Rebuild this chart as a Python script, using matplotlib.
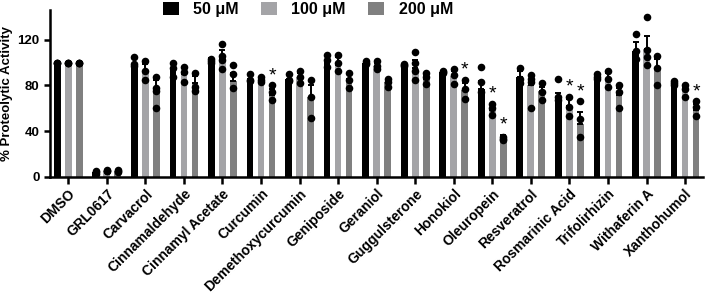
import numpy as np
import matplotlib
matplotlib.use("Agg")
import matplotlib.pyplot as plt
from matplotlib.patches import Patch

plt.rcParams['font.family'] = ['Liberation Sans', 'DejaVu Sans']
plt.rcParams['font.weight'] = 'bold'

compounds = ["DMSO", "GRL0617", "Carvacrol", "Cinnamaldehyde", "Cinnamyl Acetate",
             "Curcumin", "Demethoxycurcumin", "Geniposide", "Geraniol", "Guggulsterone",
             "Honokiol", "Oleuropein", "Resveratrol", "Rosmarinic Acid", "Trifolirhizin",
             "Withaferin A", "Xanthohumol"]
doses = ["50 \u03bcM", "100 \u03bcM", "200 \u03bcM"]

# bar means per dose
mean_50 = [100, 4, 99, 94, 101, 86, 86, 102, 100, 98, 92, 77, 87, 70, 88, 110, 82]
mean_100 = [100, 5, 93, 90, 104, 85, 87, 98, 97, 95, 88, 59, 80, 62, 86, 112, 77]
mean_200 = [100, 5, 75, 82, 84, 72, 70, 86, 83, 86, 76, 35, 75, 46, 72, 94, 59]

# upward error bars
err_50 = [0, 1, 5, 6, 3, 4, 4, 5, 1, 1, 1, 7, 6, 3, 2, 8, 2]
err_100 = [0, 1, 6, 6, 7, 2, 4, 7, 3, 7, 5, 4, 5, 6, 5, 11, 2]
err_200 = [0, 1, 10, 6, 7, 5, 10, 5, 3, 3, 6, 2, 4, 11, 6, 9, 5]

# replicate dots
pts_50 = [[100, 100, 100], [4, 5, 3], [105, 97, 99], [100, 95, 87], [103, 101, 100],
          [90, 85, 84], [90, 85, 84], [107, 102, 96], [101, 100, 99], [99, 98, 97],
          [93, 92, 91], [96, 83, 74], [95, 86, 82], [86, 70, 67], [90, 86, 87],
          [125, 110, 103], [84, 80, 82]]
pts_100 = [[100, 100, 100], [6, 5, 5], [101, 93, 85], [96, 83, 92], [116, 106, 102, 94],
           [87, 85, 83], [93, 87, 82], [107, 100, 93], [101, 94, 97], [109, 100, 93, 85],
           [94, 89, 81], [64, 60, 54], [89, 86, 83, 60], [70, 61, 53], [93, 86, 79],
           [140, 111, 105, 98], [80, 77, 70]]
pts_200 = [[100, 100, 100], [5, 6, 4], [87, 78, 75, 60], [91, 79, 75], [98, 90, 78],
           [80, 74, 67], [85, 70, 52], [91, 85, 78], [86, 79, 83], [91, 87, 81],
           [85, 77, 68], [35, 33, 32], [82, 74, 67], [66, 51, 35], [80, 74, 60],
           [106, 95, 80], [66, 61, 53]]

# which bars carry a significance star
star_100 = ["Oleuropein", "Rosmarinic Acid"]
star_200 = ["Curcumin", "Honokiol", "Oleuropein", "Rosmarinic Acid", "Xanthohumol"]

colors = ["#000000", "#a4a4a7", "#808080"]

fig = plt.figure(figsize=(7.06, 2.94), dpi=100)
ax = fig.add_axes([0.071, 0.398, 0.925, 0.568])

x = np.arange(len(compounds))
offs = [-0.285, 0, 0.285]
width = 0.175
means = [mean_50, mean_100, mean_200]
errs = [err_50, err_100, err_200]
pts = [pts_50, pts_100, pts_200]
stars = [[], star_100, star_200]

for k in range(3):
    xs = x + offs[k]
    ax.bar(xs, means[k], width=width, color=colors[k], zorder=2)
    ax.errorbar(xs, means[k], yerr=[np.zeros(len(x)), errs[k]], fmt='none',
                ecolor='black', elinewidth=1.4, capsize=2.2, capthick=1.4, zorder=3)
    for i, p in enumerate(pts[k]):
        ax.scatter(np.full(len(p), xs[i]), p, s=30, color='black', zorder=4,
                   linewidths=0)
        if compounds[i] in stars[k]:
            top = max(max(p), means[k][i] + errs[k][i])
            ax.text(xs[i], top + 1, "*", ha='center', va='bottom', fontsize=14,
                    fontweight='normal')

ax.set_xlim(-0.47, 16.47)
ax.set_ylim(0, 146)
ax.set_yticks([0, 40, 80, 120])
ax.set_xticks(x)
ax.set_xticklabels(compounds, rotation=45, ha='right', rotation_mode='anchor',
                   fontsize=10, fontweight='bold')
ax.tick_params(axis='y', labelsize=9.5, width=1.8, length=4)
ax.tick_params(axis='x', width=1.8, length=5, pad=2)
for lab in ax.get_yticklabels():
    lab.set_fontweight('bold')
ax.set_ylabel("% Proteolytic Activity", fontsize=9.5, fontweight='bold', labelpad=3)
for s in ['top', 'right']:
    ax.spines[s].set_visible(False)
for s in ['left', 'bottom']:
    ax.spines[s].set_linewidth(1.8)

handles = [Patch(facecolor=c, edgecolor='none') for c in colors]
leg = fig.legend(handles, doses, loc='center', bbox_to_anchor=(0.436, 0.969), ncol=3,
                 frameon=False, fontsize=11.5, handlelength=1.0, handleheight=0.9,
                 handletextpad=0.9, columnspacing=1.4, borderaxespad=0)
for t in leg.get_texts():
    t.set_fontweight('bold')

fig.savefig("out.png", dpi=100)
